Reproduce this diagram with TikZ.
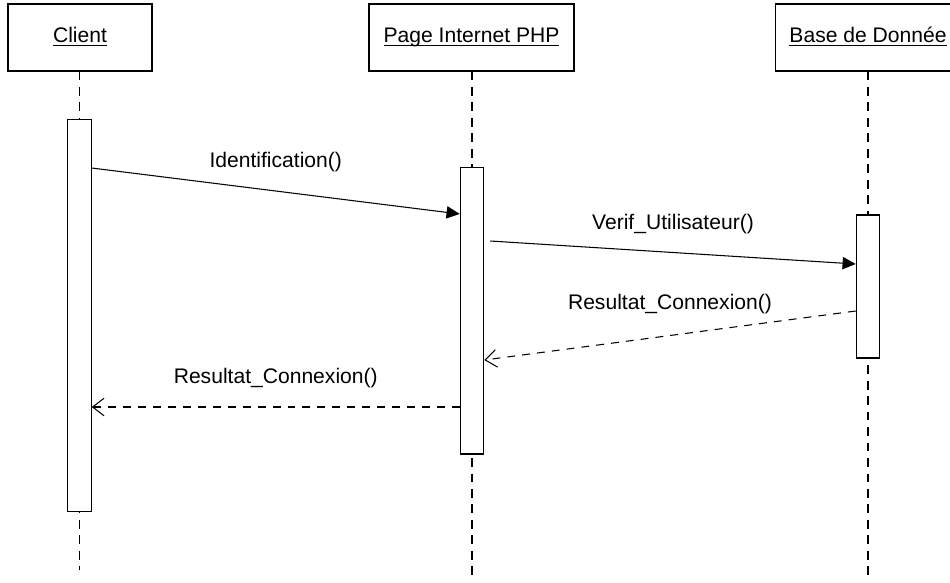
\documentclass[tikz,border=0pt]{standalone}
\usepackage{fontspec}
\setmainfont{Liberation Sans}
\usetikzlibrary{arrows.meta}

\newcommand{\objname}[1]{\underline{\smash{#1}}}

\tikzset{
    head/.style={draw, fill=white, minimum height=1.34cm, inner sep=0pt, text height=9pt, text depth=3pt, font=\fontsize{12pt}{14pt}\selectfont},
    act/.style={draw, fill=white, minimum width=0.47cm, inner sep=0pt},
    life/.style={dash pattern=on 5pt off 3.8pt},
    call/.style={-{Triangle[length=7.5pt,width=7pt]}},
    reply/.style={dash pattern=on 4.5pt off 4pt, -{Straight Barb[length=6.5pt,width=10pt]}},
    msg/.style={font=\fontsize{12pt}{14pt}\selectfont, midway, yshift=0.57cm}
}

\begin{document}
\begin{tikzpicture}[x=0.02cm, y=-0.02cm, line width=0.6pt]
    \clip (0,0) rectangle (950,582);

    % Objects
    \node[head, minimum width=2.88cm] (client) at (80,37.5) {\objname{Client}};
    \node[head, minimum width=4.1cm] (page) at (471.5,37.5) {\objname{Page Internet PHP}};
    \node[head, minimum width=3.72cm] (base) at (868,37.5) {\objname{Base de Donnée}};

    % Lifelines
    \coordinate (endClient) at (79.5,570);
    \coordinate (endPage) at (472,580);
    \coordinate (endBase) at (868,580);
    \draw[life] (client.south -| endClient) -- (endClient);
    \draw[life] (page.south -| endPage) -- (endPage);
    \draw[life] (base.south) -- (endBase);

    % Activations
    \node[act, minimum height=7.86cm] (actClient) at (79.5,315.5) {};
    \node[act, minimum height=5.74cm] (actPage) at (472,310.5) {};
    \node[act, minimum height=2.86cm] (actBase) at (868,286.5) {};

    % Messages
    \draw[call] (actClient.east |- 0,168) -- (actPage.west |- 0,214)
        node[msg] (lblIdent) {Identification()};
    \draw[call] ([xshift=0.12cm]actPage.east |- 0,241) -- (actBase.west |- 0,264)
        node[msg] (lblVerif) {Verif\_Utilisateur()};
    \draw[reply] (actBase.west |- 0,311) -- (actPage.east |- 0,360)
        node[msg, yshift=0.05cm] (lblResBase) {Resultat\_Connexion()};
    \draw[reply] (actPage.west |- 0,407) -- (actClient.east |- 0,407)
        node[msg] (lblResPage) {Resultat\_Connexion()};
\end{tikzpicture}
\end{document}
